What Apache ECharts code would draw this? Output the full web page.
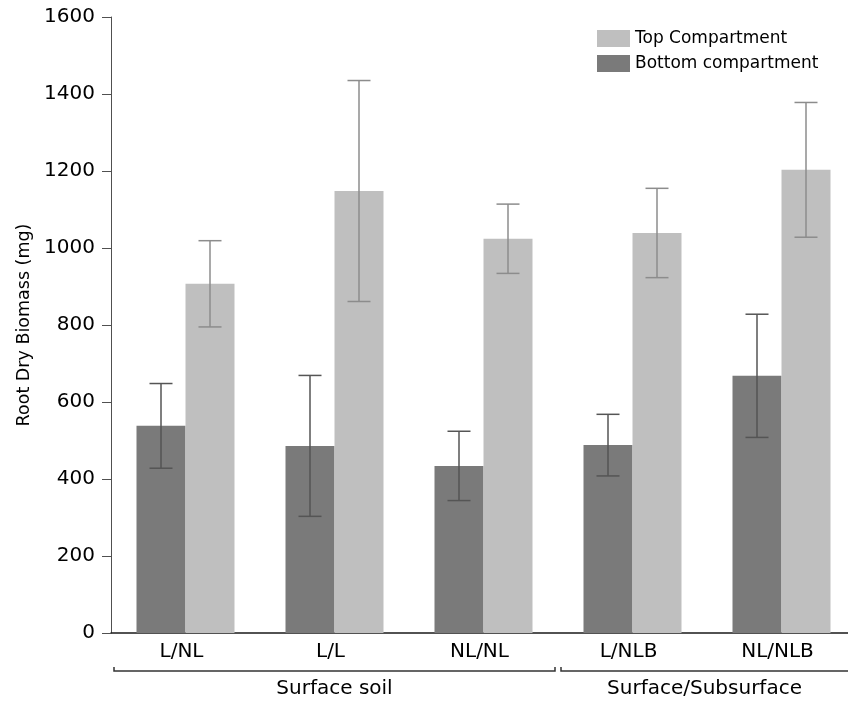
<!DOCTYPE html>
<html><head><meta charset="utf-8">
<script src="https://cdn.jsdelivr.net/npm/echarts@6/dist/echarts.min.js"></script>
<style>html,body{margin:0;padding:0;background:#fff}#c{width:848px;height:705px}</style>
</head><body><div id="c"></div>
<script>
const categories = ['L/NL', 'L/L', 'NL/NL', 'L/NLB', 'NL/NLB'];
const bottomValues = [538, 486, 434, 488, 668];
const bottomErr = [110, 183, 90, 80, 160];
const topValues = [907, 1148, 1024, 1039, 1203];
const topErr = [112, 287, 90, 116, 175];
const groups = [{name: 'Surface soil', from: 0, to: 2}, {name: 'Surface/Subsurface', from: 3, to: 4}];
const yTicks = [0, 200, 400, 600, 800, 1000, 1200, 1400, 1600];

const FONT = 'DejaVu Sans';
const DARK = '#7a7a7a', LIGHT = '#bfbfbf';

function errSeries(vals, errs, side, color) {
  return {
    type: 'custom',
    z: 5,
    silent: true,
    data: vals.map((v, i) => [i, v - errs[i], v + errs[i]]),
    encode: {x: 0, y: [1, 2]},
    renderItem: function (params, api) {
      const band = api.size([1, 0])[0];
      const off = side * band * 24.5 / 149;
      const lo = api.coord([api.value(0), api.value(1)]);
      const hi = api.coord([api.value(0), api.value(2)]);
      const x = lo[0] + off;
      const hw = 11.5;
      const st = {stroke: color, lineWidth: 1.5};
      return {type: 'group', children: [
        {type: 'line', shape: {x1: x, y1: lo[1], x2: x, y2: hi[1]}, style: st},
        {type: 'line', shape: {x1: x - hw, y1: lo[1], x2: x + hw, y2: lo[1]}, style: st},
        {type: 'line', shape: {x1: x - hw, y1: hi[1], x2: x + hw, y2: hi[1]}, style: st}
      ]};
    }
  };
}

const chart = echarts.init(document.getElementById('c'));
chart.setOption({
  animation: false,
  backgroundColor: '#fff',
  textStyle: {fontFamily: FONT},
  grid: {left: 111, top: 17, width: 745, height: 616, containLabel: false, outerBoundsMode: 'none'},
  legend: {
    orient: 'vertical', left: 592, top: 25, itemWidth: 33, itemHeight: 17, itemGap: 8,
    icon: 'rect',
    itemStyle: {borderWidth: 0},
    textStyle: {fontFamily: FONT, fontSize: 17, color: '#000'},
    data: ['Top Compartment', 'Bottom compartment']
  },
  xAxis: {
    type: 'category', data: categories,
    axisTick: {show: false},
    axisLine: {lineStyle: {color: '#1a1a1a', width: 1.5}},
    axisLabel: {
      interval: 0, hideOverlap: false,
      fontFamily: FONT, fontSize: 20, color: '#000', margin: 9,
      formatter: v => '{a|' + v + '}',
      rich: {a: {fontFamily: FONT, fontSize: 20, color: '#000', padding: [0, 8, 0, 0]}}
    }
  },
  yAxis: {
    type: 'value', min: yTicks[0], max: yTicks[yTicks.length - 1], interval: 200,
    name: 'Root Dry Biomass (mg)', nameLocation: 'middle', nameGap: 78, nameRotate: 90,
    nameTextStyle: {fontFamily: FONT, fontSize: 17.5, color: '#000'},
    axisLine: {show: true, lineStyle: {color: '#505050', width: 1}},
    axisTick: {show: true, length: 9, lineStyle: {color: '#505050'}},
    axisLabel: {fontFamily: FONT, fontSize: 20, color: '#000', margin: 16, formatter: v => String(v)},
    splitLine: {show: false}
  },
  series: [
    {name: 'Bottom compartment', type: 'bar', data: bottomValues, barWidth: 49, barGap: '0%',
     itemStyle: {color: DARK}},
    {name: 'Top Compartment', type: 'bar', data: topValues, barWidth: 49, barGap: '0%',
     itemStyle: {color: LIGHT}},
    errSeries(bottomValues, bottomErr, -1, '#555'),
    errSeries(topValues, topErr, 1, '#8c8c8c')
  ]
});

// group brackets under the category axis
const p0 = chart.convertToPixel({xAxisIndex: 0}, 0);
const p1 = chart.convertToPixel({xAxisIndex: 0}, 1);
const band = p1 - p0;
const elems = [];
const by = 671;
groups.forEach((g) => {
  const x1 = chart.convertToPixel({xAxisIndex: 0}, g.from) - band / 2 + 3;
  const x2 = chart.convertToPixel({xAxisIndex: 0}, g.to) + band / 2 - 3;
  elems.push({type: 'polyline', shape: {points: [[x1, by - 4], [x1, by], [x2, by], [x2, by - 4]]},
    style: {stroke: '#333', lineWidth: 1.5, fill: null}});
  elems.push({type: 'text', x: (x1 + Math.min(x2, 848)) / 2, y: by + 18,
    style: {text: g.name, fontFamily: FONT, fontSize: 20, fill: '#000', textAlign: 'center', textVerticalAlign: 'middle'}});
});
chart.setOption({graphic: elems});
</script></body></html>
